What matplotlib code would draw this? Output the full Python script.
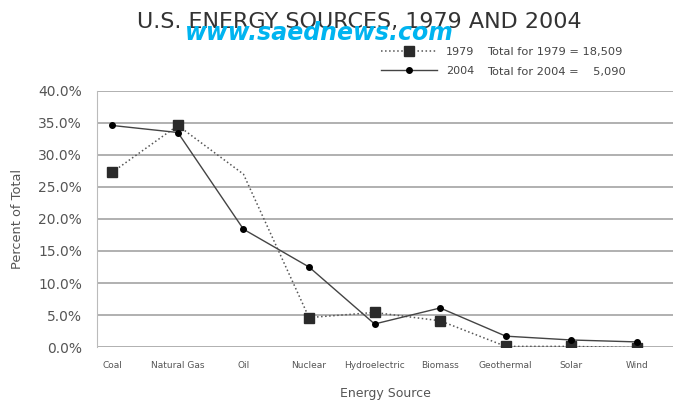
import matplotlib.pyplot as plt
from matplotlib.ticker import FuncFormatter

# 数据
sources = ['Coal', 'Natural Gas', 'Oil', 'Nuclear', 'Hydroelectric', 'Biomass',
           'Geothermal', 'Solar', 'Wind']
share_1979 = [27.3, 34.6, 27.0, 4.6, 5.4, 4.1, 0.1, 0.1, -0.1]
share_2004 = [34.6, 33.5, 18.4, 12.5, 3.6, 6.1, 1.7, 1.1, 0.8]
yticks = [0, 5, 10, 15, 20, 25, 30, 35, 40]

fig = plt.figure(figsize=(6.75, 4.04), dpi=100)
ax = fig.add_axes([0.144, 0.141, 0.853, 0.634])

x = list(range(len(sources)))
l1, = ax.plot(x, share_1979, ls=':', lw=1.1, color='#555555', marker='s', ms=7.5,
              mfc='#2a2a2a', mec='#2a2a2a', markevery=[0, 1, 3, 4, 5, 6, 7, 8], zorder=3)
l2, = ax.plot(x, share_2004, ls='-', lw=1.0, color='#444444', marker='o', ms=4,
              mfc='black', mec='black', zorder=4)

ax.set_xlim(-0.23, 8.55)
ax.set_ylim(0, 40)
ax.set_yticks(yticks)
ax.yaxis.set_major_formatter(FuncFormatter(lambda v, p: '%.1f%%' % v))
ax.set_xticks(x)
ax.set_xticklabels(sources, fontsize=6.5, color='#555555')
ax.tick_params(axis='y', labelsize=10, labelcolor='#555555', length=0, pad=11)
ax.tick_params(axis='x', length=0, pad=10)
ax.grid(axis='y', color='#aaaaaa', lw=1.3)
ax.set_axisbelow(True)
for s in ['top', 'right', 'bottom']:
    ax.spines[s].set_visible(False)
ax.spines['left'].set_color('#bbbbbb')

ax.set_ylabel('Percent of Total', fontsize=9.3, color='#555555', labelpad=10)
ax.set_xlabel('Energy Source', fontsize=9, color='#555555', labelpad=12)

# 标题和图例
fig.text(0.532, 0.945, 'U.S. ENERGY SOURCES, 1979 AND 2004', ha='center', va='center',
         fontsize=16, color='#333333')
fig.text(0.473, 0.918, 'www.saednews.com', ha='center', va='center', fontsize=17,
         color='#00b4f0', fontweight='bold', style='italic')
leg = fig.legend([l1, l2], ['1979', '2004'], loc='center left',
                 bbox_to_anchor=(0.565, 0.847), frameon=False, fontsize=8,
                 handlelength=5, labelspacing=0.8, handletextpad=0.8,
                 borderpad=0, borderaxespad=0)
for t in leg.get_texts():
    t.set_color('#444444')
fig.text(0.721, 0.871, 'Total for 1979 = 18,509', fontsize=8.2, color='#444444', va='center')
fig.text(0.721, 0.822, 'Total for 2004 =    5,090', fontsize=8.2, color='#444444', va='center')

plt.savefig('out.png', dpi=100)
